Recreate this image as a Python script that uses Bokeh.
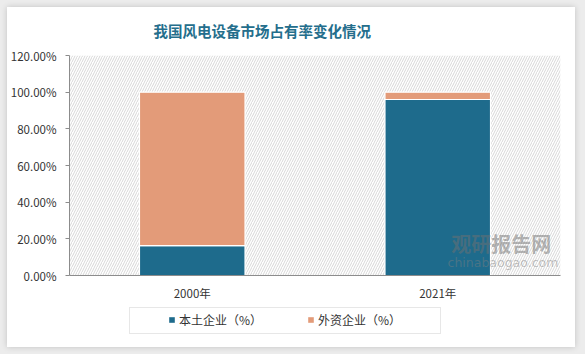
from bokeh.plotting import figure
from bokeh.models import ColumnDataSource, Legend, LegendItem, PrintfTickFormatter, BoxAnnotation, Label
from bokeh.layouts import column
from bokeh.embed import file_html
from bokeh.resources import INLINE

# ---- data ----
title_text = "我国风电设备市场占有率变化情况"
years = ["2000年", "2021年"]
local_share = [16.3, 96.0]     # 本土企业（%）
foreign_share = [83.7, 4.0]    # 外资企业（%）
series_names = ["本土企业（%）", "外资企业（%）"]
y_ticks = [0, 20, 40, 60, 80, 100, 120]

BLUE = "#1e6b8c"
ORANGE = "#e39b79"
FONT = "Noto Sans CJK SC"

src = ColumnDataSource(dict(year=years, local=local_share, foreign=foreign_share))

p = figure(x_range=years, y_range=(0, 120), width=568, height=296,
           output_backend="svg", toolbar_location=None,
           min_border_left=62, min_border_right=15, min_border_top=48, min_border_bottom=26,
           background_fill_color="white", border_fill_color="white")
p.outline_line_color = None
p.grid.visible = False
p.x_range.range_padding = 0

# hatched plot background
p.add_layout(BoxAnnotation(fill_alpha=0, line_alpha=0, hatch_pattern="/", hatch_color="#c4c4c4",
                           hatch_scale=5, hatch_weight=0.7, level="underlay"))

rs = p.vbar_stack(["local", "foreign"], x="year", width=0.43, source=src,
                  fill_color=[BLUE, ORANGE], line_color="white", line_width=1.2)

# title
p.title.text = title_text
p.title.align = "left"
p.title.vertical_align = "top"
p.title.offset = 84
p.title.standoff = 25
p.title.text_font = FONT
p.title.text_font_size = "14.5px"
p.title.text_font_style = "bold"
p.title.text_color = "#246e8c"

# axes
p.yaxis.ticker = y_ticks
p.yaxis.formatter = PrintfTickFormatter(format="%.2f%%")
for ax in (p.xaxis[0], p.yaxis[0]):
    ax.axis_line_color = "#8c8c8c"
    ax.major_label_text_font = FONT
    ax.major_label_text_font_size = "11.5px"
    ax.major_label_text_color = "#333333"
    ax.minor_tick_line_color = None
p.yaxis.major_tick_line_color = "#8c8c8c"
p.yaxis.major_tick_in = 0
p.yaxis.major_tick_out = 4
p.yaxis.major_label_standoff = 9
p.xaxis.major_tick_line_color = None
p.xaxis.major_tick_in = 0
p.xaxis.major_tick_out = 0
p.xaxis.major_label_standoff = 9

# watermark
p.add_layout(Label(x=1.555, y=9.4, text="观研报告网", text_font=FONT, text_font_size="20px",
                   text_font_style="bold", text_color="#707070", text_alpha=0.5))
p.add_layout(Label(x=1.54, y=2.8, text="chinabaogao.com", text_font="DejaVu Sans", text_font_size="12.5px",
                   text_color="#808080", text_alpha=0.45))

# ---- legend strip (separate figure below the chart; frames are aligned by the column) ----
pl = figure(width=568, height=44, output_backend="svg", toolbar_location=None,
            x_range=years, y_range=(1000, 1001), min_border=0,
            background_fill_color="white", border_fill_color="white")
pl.xaxis.visible = False
pl.yaxis.visible = False
pl.grid.visible = False
pl.outline_line_color = None

lrs = pl.vbar_stack(["local", "foreign"], x="year", width=0.43, source=src,
                    fill_color=[BLUE, ORANGE], line_color=None)
lr_box = pl.vbar(x="year", top="local", width=0.43, source=src, fill_alpha=0, line_alpha=0)

box_leg = Legend(items=[LegendItem(label=" ", renderers=[lr_box])], location=(60, 13),
                 orientation="horizontal", padding=0, margin=0, glyph_width=310, glyph_height=25,
                 label_standoff=0, label_width=0, label_height=0, label_text_font_size="1px",
                 border_line_color="#d0d0d0", border_line_width=1, background_fill_color="white")
pl.add_layout(box_leg)

leg = Legend(items=[LegendItem(label=series_names[0], renderers=[lrs[0]]),
                    LegendItem(label=series_names[1], renderers=[lrs[1]])],
             location=(99, 19), orientation="horizontal", padding=0, margin=0,
             glyph_width=7, glyph_height=7, label_standoff=4, label_width=128, label_height=12,
             spacing=0, label_text_font=FONT, label_text_font_size="12px", label_text_color="#333333",
             border_line_alpha=0, background_fill_alpha=0)
pl.add_layout(leg)

card = column(p, pl, spacing=0, margin=(7, 10, 7, 7),
              styles={"background-color": "white", "box-shadow": "0 0 6px rgba(0,0,0,0.18)"})
layout = column(card, width=585, height=354, styles={"background-color": "#ececec"})

open("out.html", "w").write(file_html(layout, INLINE))
